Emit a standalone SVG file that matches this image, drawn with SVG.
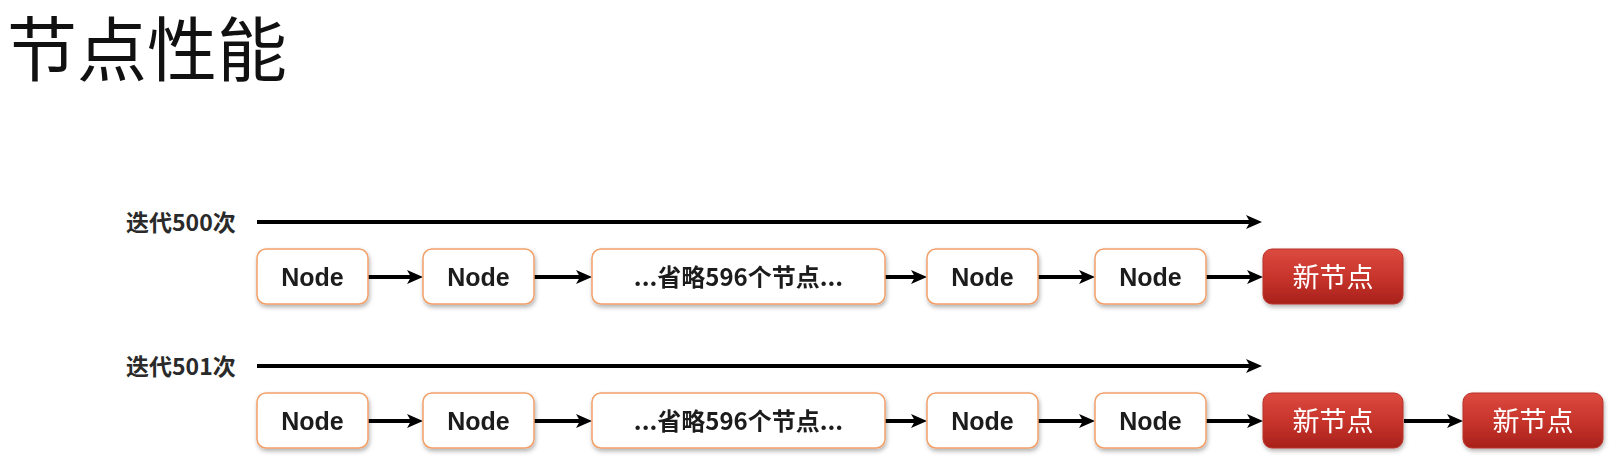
<svg xmlns="http://www.w3.org/2000/svg" width="1618" height="462" viewBox="0 0 1618 462">
<style>
.title{font-family:"Noto Sans CJK SC","Noto Sans",sans-serif;font-size:70px;fill:#111}
.lbl{font-family:"Noto Sans CJK SC",sans-serif;font-size:23px;font-weight:bold;fill:#2a2a2a}
.nbox{fill:#fff;stroke:#f2a06a;stroke-width:1.5}
.ntxt{font-family:"Liberation Sans","Noto Sans CJK SC",sans-serif;font-size:25px;font-weight:bold;fill:#1a1a1a;text-anchor:middle}
.etxt{font-family:"Noto Sans CJK SC","Liberation Sans",sans-serif;font-size:24px;font-weight:bold;fill:#1a1a1a;text-anchor:middle}
.rbox{fill:url(#red);stroke:#b8322a;stroke-width:1}
.rtxt{font-family:"Noto Sans CJK SC",sans-serif;font-size:27px;fill:#fff;text-anchor:middle}
.arr{stroke:#000;stroke-width:4;fill:none;marker-end:url(#ah)}
</style>
<defs>
<marker id="ah" markerUnits="userSpaceOnUse" markerWidth="16" markerHeight="14" viewBox="0 0 16 14" refX="8" refY="7" orient="auto">
<path d="M0,0 L16,7 L0,14 L4,7 z" fill="#000"/>
</marker>
<linearGradient id="red" x1="0" y1="0" x2="0" y2="1">
<stop offset="0" stop-color="#dc4a3f"/>
<stop offset="0.5" stop-color="#c8352c"/>
<stop offset="1" stop-color="#a8211b"/>
</linearGradient>
<filter id="sh" x="-10%" y="-10%" width="125%" height="140%">
<feDropShadow dx="1" dy="2.5" stdDeviation="2" flood-color="#000" flood-opacity="0.3"/>
</filter>
</defs>
<rect width="1618" height="462" fill="#fff"/>
<text class="title" x="7" y="76">节点性能</text>

<g id="labels">
<text class="lbl" x="126" y="231">迭代500次</text>
<text class="lbl" x="126" y="375">迭代501次</text>
</g>

<g id="connectors">
<path class="arr" d="M257,222 H1254"/>
<path class="arr" d="M257,366 H1254"/>
<path class="arr" d="M368,277 H415"/>
<path class="arr" d="M534,277 H584"/>
<path class="arr" d="M885,277 H919"/>
<path class="arr" d="M1038,277 H1087"/>
<path class="arr" d="M1206,277 H1255"/>
<path class="arr" d="M368,421 H415"/>
<path class="arr" d="M534,421 H584"/>
<path class="arr" d="M885,421 H919"/>
<path class="arr" d="M1038,421 H1087"/>
<path class="arr" d="M1206,421 H1255"/>
<path class="arr" d="M1404,421 H1455"/>
</g>

<g id="r1n1" filter="url(#sh)"><rect class="nbox" x="257" y="249" width="111" height="55" rx="9"/><text class="ntxt" x="312.5" y="286">Node</text></g>
<g id="r1n2" filter="url(#sh)"><rect class="nbox" x="423" y="249" width="111" height="55" rx="9"/><text class="ntxt" x="478.5" y="286">Node</text></g>
<g id="r1n3" filter="url(#sh)"><rect class="nbox" x="592" y="249" width="293" height="55" rx="9"/><text class="etxt" x="738.5" y="286">...省略596个节点...</text></g>
<g id="r1n4" filter="url(#sh)"><rect class="nbox" x="927" y="249" width="111" height="55" rx="9"/><text class="ntxt" x="982.5" y="286">Node</text></g>
<g id="r1n5" filter="url(#sh)"><rect class="nbox" x="1095" y="249" width="111" height="55" rx="9"/><text class="ntxt" x="1150.5" y="286">Node</text></g>
<g id="r1new" filter="url(#sh)"><rect class="rbox" x="1263" y="249" width="140" height="55" rx="9"/><text class="rtxt" x="1333" y="287">新节点</text></g>

<g id="r2n1" filter="url(#sh)"><rect class="nbox" x="257" y="393" width="111" height="55" rx="9"/><text class="ntxt" x="312.5" y="430">Node</text></g>
<g id="r2n2" filter="url(#sh)"><rect class="nbox" x="423" y="393" width="111" height="55" rx="9"/><text class="ntxt" x="478.5" y="430">Node</text></g>
<g id="r2n3" filter="url(#sh)"><rect class="nbox" x="592" y="393" width="293" height="55" rx="9"/><text class="etxt" x="738.5" y="430">...省略596个节点...</text></g>
<g id="r2n4" filter="url(#sh)"><rect class="nbox" x="927" y="393" width="111" height="55" rx="9"/><text class="ntxt" x="982.5" y="430">Node</text></g>
<g id="r2n5" filter="url(#sh)"><rect class="nbox" x="1095" y="393" width="111" height="55" rx="9"/><text class="ntxt" x="1150.5" y="430">Node</text></g>
<g id="r2new1" filter="url(#sh)"><rect class="rbox" x="1263" y="393" width="140" height="55" rx="9"/><text class="rtxt" x="1333" y="431">新节点</text></g>
<g id="r2new2" filter="url(#sh)"><rect class="rbox" x="1463" y="393" width="140" height="55" rx="9"/><text class="rtxt" x="1533" y="431">新节点</text></g>
</svg>
